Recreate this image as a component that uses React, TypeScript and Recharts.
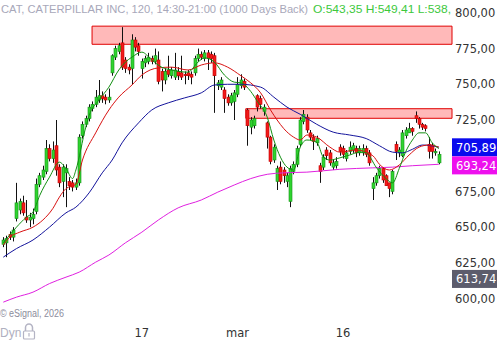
import React from 'react';
import { ComposedChart, Bar, Line, XAxis, YAxis, ReferenceArea, ReferenceLine } from 'recharts';

// ---- candle data (2h bars) ----
const opens = [638,639,645,643,656,662,667,657,655,656,661,680,685,689,705,698,707,692,682,688,682,681,678,681,714,722,726,733,736,739,742,741,739,758,769,773,779,767,762,761,781,777,761,765,766,768,766,767,759,753,760,756,755,759,758,757,758,757,758,768,771,768,772,771,770,749,748,746,741,737,738,743,749,752,732,720,721,742,740,731,723,713,697,682,692,690,682,668,689,694,708,724,727,716,713,709,693,692,704,702,692,693,706,705,698,703,704,705,702,702,705,702,677,681,686,691,686,681,675,708,702,700,714,716,719,728,726,722,721,708,707,702,695];
const highs = [643,644,647,650,681,670,672,669,660,663,684,688,693,711,708,710,725,694,694,694,685,683,684,715,724,728,736,738,746,753,745,743,747,771,777,779,790,769,764,785,783,779,768,770,772,770,775,773,761,761,770,762,772,762,770,759,760,759,770,775,773,774,774,773,772,753,755,748,743,744,746,755,757,754,733,727,728,743,742,736,724,714,708,693,696,692,688,693,696,707,727,732,729,718,715,714,695,701,706,704,697,699,708,707,704,710,709,707,707,708,707,704,685,688,693,692,687,681,690,710,706,718,720,723,720,731,727,723,722,713,709,705,703];
const lows = [636,629,641,640,654,659,658,653,650,652,659,678,683,687,696,695,686,678,671,664,676,675,676,679,712,720,724,731,734,737,737,736,737,756,767,771,760,758,757,750,773,770,754,762,764,764,764,750,745,750,755,754,753,753,753,750,753,750,756,766,767,766,760,765,730,746,746,730,735,735,725,741,747,746,707,715,719,731,733,728,705,694,695,676,680,681,678,664,687,692,706,722,716,711,704,707,681,690,697,693,690,691,700,698,696,701,702,699,700,700,699,693,669,679,684,681,679,671,673,697,699,699,712,716,714,723,719,718,717,698,698,700,694];
const closes = [641,642,643,648,667,668,660,655,657,659,680,686,690,705,698,704,690,681,692,691,679,678,681,713,722,726,734,736,741,742,740,739,741,770,775,777,762,761,760,781,776,773,766,768,769,766,770,752,753,759,757,760,760,756,755,756,756,755,768,771,769,772,768,768,756,751,753,740,737,742,744,750,753,748,721,725,726,734,736,734,713,696,706,691,682,686,686,691,694,705,725,729,718,713,710,712,689,699,700,695,695,696,703,701,702,706,707,702,705,705,701,695,681,686,691,683,679,677,689,703,704,716,718,719,717,726,722,720,719,703,703,703,701];

// ---- moving averages: [bar index, value] ----
const greenMA = [[0,639],[4,650],[7,657],[9,660.5],[11,672],[14,685],[17,695.5],[19,691],[21,684],[22,690],[25,720],[26,728],[29,739],[32,748],[35,760],[37,765.5],[39,769],[42,772.5],[45,767],[48,762],[51,760],[56,758.5],[59,765.5],[61,768.5],[64,765.5],[67,756.5],[70,751.5],[72,751],[75,745],[77,738],[80,727],[82,711],[84,699],[86,692],[88,690],[90,706],[92,711],[95,709.5],[97,699],[99,697],[102,698.5],[105,700.5],[108,702.5],[110,702],[113,692],[116,684],[118,681],[120,691],[122,703],[124,711],[126,716],[128,716],[130,709],[132,705]];
const redMA = [[0,637.5],[2,643],[5,646.5],[9,650],[12,655],[15,663],[17,671],[19,677],[22,680],[24,697],[28,716],[32,732],[35,741],[39,749.5],[42,756.5],[47,761.5],[51,762],[56,760],[60,763.5],[64,765],[68,762],[72,756],[75,751],[78,744],[81,732],[83,725],[85,719],[88,713],[90,711],[92,714.5],[95,713],[99,706],[102,702.5],[107,704],[112,700],[114,694],[117,690],[120,693.5],[123,700.5],[126,706],[129,707.5],[132,706]];
const blueMA = [[0,629],[4,635],[9,641],[14,650],[19,660],[22,664],[26,674],[30,688],[33,697],[36,709],[41,723],[45,732],[50,737],[55,740.5],[60,744],[64,749.5],[68,750],[72,750],[78,748],[82,741],[86,734],[90,729],[95,722],[100,716.5],[105,714.5],[110,712],[114,707],[118,702.5],[121,702],[124,704.5],[127,707.5],[132,706]];
const magentaMA = [[0,597.5],[4,601],[9,604.5],[14,610.5],[19,615],[23,618.5],[28,625.5],[32,630.5],[37,639],[42,646.5],[47,655],[53,663.5],[60,669],[65,674.5],[70,679.5],[75,684],[80,687],[85,688],[92,688.5],[102,690.5],[112,691.5],[118,692],[124,693],[132,694]];

// ---- axes / annotations ----
const xTickIndex = [42, 71, 103];
const xTickLabels = ['17', 'mar', '16'];
const yTicks = [600, 625, 650, 675, 725, 750, 775, 800];
const zones = [
  { x1: 26.9, y1: 778, y2: 790.7 },
  { x1: 73.5, y1: 726.2, y2: 732.9 },
];
const priceTags = [
  { value: 705.89, text: '705,89', fill: '#0a0aee' },
  { value: 693.24, text: '693,24', fill: '#ee10ee' },
  { value: 613.74, text: '613,74', fill: '#5c5c6c' },
];

const toMap = (arr: number[][]) => {
  const m: Record<number, number> = {};
  arr.forEach(([i, v]) => { m[i] = v; });
  return m;
};
const gM = toMap(greenMA), rM = toMap(redMA), bM = toMap(blueMA), mM = toMap(magentaMA);

const rows = opens.map((o, i) => ({
  i, o, h: highs[i], l: lows[i], c: closes[i],
  g: gM[i], r: rM[i], b: bM[i], m: mM[i],
}));

const FONT = 'DejaVu Sans, Verdana, sans-serif';

const Candle = (props: any) => {
  const { x, y, width, height, payload } = props;
  if (!payload || height == null) return null;
  const { o, h, l, c } = payload;
  const ratio = h - l === 0 ? 0 : height / (h - l);
  const cx = x + width / 2;
  const wx = Math.round(cx) + 0.5;
  const top = y + (h - Math.max(o, c)) * ratio;
  const bot = y + (h - Math.min(o, c)) * ratio;
  const up = c >= o;
  return (
    <g>
      <line x1={wx} x2={wx} y1={y} y2={y + height} stroke="#111" strokeWidth={1} />
      <rect
        x={Math.round(cx) - 1}
        y={top}
        width={3}
        height={Math.max(1.2, bot - top)}
        fill={up ? '#2fd42f' : '#f21a1a'}
        stroke={up ? '#17901a' : '#c40000'}
        strokeWidth={0.6}
      />
    </g>
  );
};

const makeTag = (text: string, fill: string) => (props: any) => {
  const vb = props.viewBox || {};
  const x0 = (vb.x || 0) + (vb.width || 0);
  const yc = vb.y || 0;
  return (
    <g>
      <rect x={x0} y={yc - 9} width={50} height={18} fill={fill} />
      <text x={x0 + 4} y={yc + 4.2} fill="#ffffff" fontSize={11.5} fontFamily={FONT}>{text}</text>
    </g>
  );
};

export default function App() {
  return (
    <div style={{ position: 'absolute', left: 0, top: 0, width: 497, height: 340, background: '#fff' }}>
      <ComposedChart width={497} height={340} data={rows} margin={{ top: 0, right: 0, bottom: 0, left: 0 }}>
        <XAxis
          dataKey="i"
          type="number"
          domain={[-1, 136]}
          allowDataOverflow
          ticks={xTickIndex}
          tickFormatter={(v: number) => xTickLabels[xTickIndex.indexOf(v)] ?? ''}
          axisLine={false}
          tickLine={false}
          tickSize={0}
          tickMargin={9}
          height={20}
          tick={{ fontSize: 11.5, fill: '#333', fontFamily: FONT }}
        />
        <YAxis
          orientation="right"
          type="number"
          domain={[585, 809]}
          allowDataOverflow
          ticks={yTicks}
          tickFormatter={(v: number) => v.toFixed(2).replace('.', ',')}
          axisLine={false}
          tickLine={false}
          tickSize={0}
          tickMargin={3}
          width={45}
          tick={{ fontSize: 11.5, fill: '#333', fontFamily: FONT, textAnchor: 'start' }}
        />
        {zones.map((z, k) => (
          <ReferenceArea key={k} x1={z.x1} x2={136} y1={z.y1} y2={z.y2} fill="#ff5050" fillOpacity={0.4} stroke="#e00000" strokeWidth={1} ifOverflow="visible" />
        ))}
        <Bar dataKey={(d: any) => [d.l, d.h]} barSize={3} shape={<Candle />} activeBar={false} isAnimationActive={false} />
        <Line dataKey="m" type="monotone" stroke="#e020e0" strokeWidth={1} dot={false} activeDot={false} connectNulls isAnimationActive={false} />
        <Line dataKey="b" type="monotone" stroke="#14149c" strokeWidth={1} dot={false} activeDot={false} connectNulls isAnimationActive={false} />
        <Line dataKey="r" type="monotone" stroke="#d81010" strokeWidth={1} dot={false} activeDot={false} connectNulls isAnimationActive={false} />
        <Line dataKey="g" type="monotone" stroke="#128f12" strokeWidth={1} dot={false} activeDot={false} connectNulls isAnimationActive={false} />
        {priceTags.map((p, k) => (
          <ReferenceLine key={k} y={p.value} stroke="none" strokeOpacity={0} ifOverflow="visible" label={makeTag(p.text, p.fill)} />
        ))}
      </ComposedChart>
      <svg width={497} height={340} style={{ position: 'absolute', left: 0, top: 0, pointerEvents: 'none' }}>
        <text x={1} y={12.5} fontSize={11.5} fontFamily="Liberation Sans, Arial, sans-serif" fill="#a8a8ba" textLength={307} lengthAdjust="spacingAndGlyphs">
          CAT, CATERPILLAR INC, 120, 14:30-21:00 (1000 Days Back)
        </text>
        <text x={313} y={12.5} fontSize={11.5} fontFamily="Liberation Sans, Arial, sans-serif" fill="#3cc83c" textLength={138} lengthAdjust="spacingAndGlyphs">
          O:543,35 H:549,41 L:538,
        </text>
        <text x={0} y={316.5} fontSize={10} fontFamily="Liberation Sans, Arial, sans-serif" fill="#8c8c9c" textLength={64} lengthAdjust="spacingAndGlyphs">
          © eSignal, 2026
        </text>
        <text x={0} y={337} fontSize={12} fontFamily="Liberation Sans, Arial, sans-serif" fill="#b0b0c0">
          Dyn
        </text>
        <path d="M25.5 331 v-3.5 a3.5 3.5 0 0 1 7 0 v3.5" fill="none" stroke="#b4b4c4" strokeWidth={1.5} />
        <rect x={23.5} y={331} width={11} height={8} rx={1} fill="none" stroke="#b4b4c4" strokeWidth={1.2} />
        <line x1={29} x2={29} y1={333} y2={336.5} stroke="#b4b4c4" strokeWidth={1.2} />
      </svg>
    </div>
  );
}
